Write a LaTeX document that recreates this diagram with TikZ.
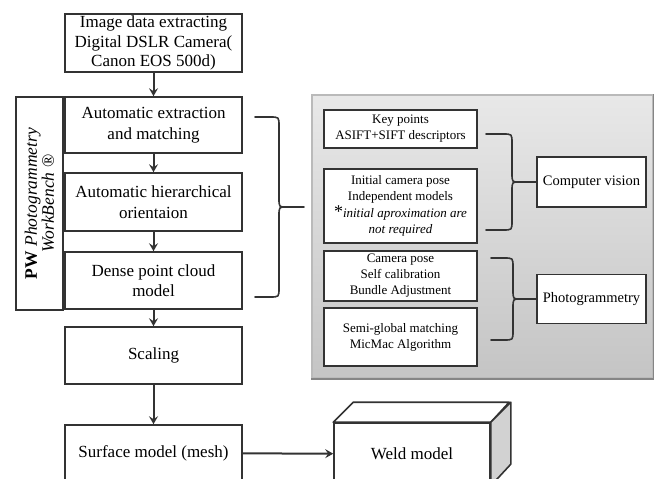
\documentclass[tikz,border=0pt]{standalone}
\usepackage{fontspec}
\setmainfont{Liberation Serif}
\usetikzlibrary{arrows.meta}
\definecolor{edge}{HTML}{333333}
\definecolor{sideface}{HTML}{D2D2D2}

% curly brace opening to the right: #1 end x, #2 stem x, #3 top y, #4 bottom y, #5 tip target
\newcommand\drawbrace[5]{%
  \pgfmathsetmacro\bracemid{(#3+#4)/2}
  \draw[bracestroke] (#1,#3) -- ({#2-9},#3) .. controls (#2,#3) .. (#2,{#3+9})
    -- (#2,{\bracemid-9}) .. controls (#2,\bracemid) .. ({#2+7},\bracemid)
    .. controls (#2,\bracemid) .. (#2,{\bracemid+9})
    -- (#2,{#4-9}) .. controls (#2,#4) .. ({#2-9},#4) -- (#1,#4);
  \draw[bracestroke] ({#2+7},\bracemid) -- (#5);
}

\begin{document}
\begin{tikzpicture}[x=1pt,y=-1pt,
  mainbox/.style={draw=edge, line width=1.6pt, fill=white, minimum width=177pt,
    inner xsep=2pt, inner ysep=0pt, align=center, font=\fontsize{17}{20.5}\selectfont},
  subbox/.style={draw=edge, line width=1.4pt, fill=white, minimum width=153pt,
    inner ysep=0pt, align=center, font=\fontsize{13}{16}\selectfont},
  tagbox/.style={draw=edge, line width=1.4pt, fill=white, minimum width=109pt,
    minimum height=50pt, inner sep=1pt, align=center, font=\fontsize{14.5}{17}\selectfont},
  flowline/.style={draw=edge, line width=2pt, -{Stealth[length=8pt,width=9pt,inset=3pt]}},
  bracestroke/.style={draw=edge, line width=1.6pt, line join=round, line cap=round}
]
\useasboundingbox (0,0) rectangle (654,479);

% grey panel with the method details
\node[minimum width=341pt, minimum height=283pt, top color=black!9, bottom color=black!23,
  draw=black!27, line width=2pt] (panel) at (482.5,236.5) {};
\draw[black!48, line width=2.5pt] (panel.south west) -- (panel.south east) -- (panel.north east);

% main processing chain
\node[mainbox, minimum height=58pt, font=\fontsize{17}{19.8}\selectfont] (img) at (153.5,43) {Image data extracting\\Digital DSLR Camera(\\Canon EOS 500d)};
\node[mainbox, minimum height=56pt] (ext) at (153.5,125) {Automatic extraction\\and matching};
\node[mainbox, minimum height=58pt] (hier) at (153.5,202) {Automatic hierarchical\\orientaion};
\node[mainbox, minimum height=57pt] (dense) at (153.5,280.5) {Dense point cloud\\model};
\node[mainbox, minimum height=57pt] (scal) at (153.5,355.5) {Scaling};
\node[mainbox, minimum height=56pt] (surf) at (153.5,453) {Surface model (mesh)};

% software label
\node[draw=edge, line width=1.4pt, rotate=90, minimum width=213pt, minimum height=47pt,
  inner sep=0pt, align=center, font=\fontsize{17.5}{17}\selectfont] (pw) at (39.5,203.5)
  {\textbf{PW} \textit{Photogrammetry}\\\textit{WorkBench} ®};

% arrows of the chain
\draw[flowline] (img) -- (ext);
\draw[flowline] (ext) -- (hier);
\draw[flowline] (hier) -- (dense);
\draw[flowline] (dense) -- (scal);
\draw[flowline] (scal) -- (surf);

% weld model block
\node[mainbox, minimum width=156pt, minimum height=62pt] (weld) at (412,454) {Weld model};
\draw[draw=edge, line width=1.6pt, fill=white, line join=round]
  (weld.north west) -- ++(20,-20) -- ++(156,0) -- (weld.north east) -- cycle;
\draw[draw=edge, line width=1.6pt, fill=sideface, line join=round]
  (weld.north east) -- ++(20,-20) -- ++(0,62) -- (weld.south east) -- cycle;
\draw[flowline] (surf) -- (weld);

% detail boxes
\node[subbox, minimum height=38pt] (kp) at (400.5,129) {Key points\\ASIFT+SIFT descriptors};
\node[subbox, minimum height=74pt] (icp) at (400.5,206) {Initial camera pose\\Independent models\\[1pt]%
  {\fontsize{18}{16}\selectfont *}\textit{initial aproximation are}\\\textit{not required}};
\node[subbox, minimum height=50pt] (cp) at (400.5,276) {Camera pose\\Self calibration\\Bundle Adjustment};
\node[subbox, minimum height=58pt] (sg) at (400.5,337) {Semi-global matching\\MicMac Algorithm};

\node[tagbox] (cv) at (591.5,182) {Computer vision};
\node[tagbox, minimum height=49pt] (pg) at (591.5,299) {Photogrammetry};

% braces
\coordinate (bigtip) at (304,207);
\drawbrace{255}{279}{117}{297}{bigtip}
\drawbrace{486}{512}{134}{230}{cv.west}
\drawbrace{491}{513}{258}{340}{pg.west}
\end{tikzpicture}
\end{document}
